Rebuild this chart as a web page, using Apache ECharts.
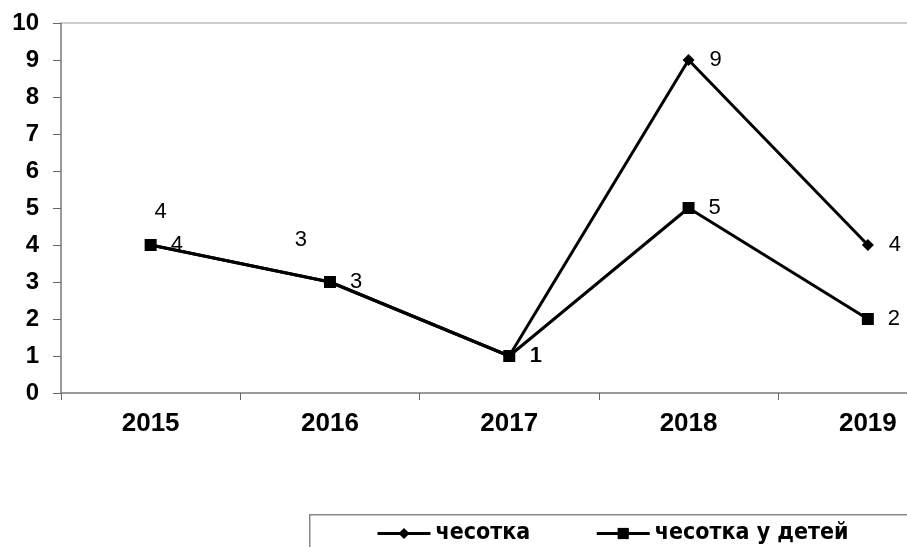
<!DOCTYPE html>
<html>
<head>
<meta charset="utf-8">
<script src="https://cdn.jsdelivr.net/npm/echarts@6/dist/echarts.min.js"></script>
<style>html,body{margin:0;padding:0;background:#fff;}#c{width:907px;height:547px;}</style>
</head>
<body>
<div id="c"></div>
<script>
const categories = ['2015', '2016', '2017', '2018', '2019'];
const seriesNames = ['чесотка', 'чесотка у детей'];
const scabies = [4, 3, 1, 9, 4];
const scabiesChildren = [4, 3, 1, 5, 2];
const yTicks = [0, 1, 2, 3, 4, 5, 6, 7, 8, 9, 10];

// label offsets for the first series (as placed in the original)
const s1LabelOffsets = [[10, -33], [-29, -42], null, null, null];

const chart = echarts.init(document.getElementById('c'), null, {renderer: 'canvas'});
const labelFont = {fontFamily: 'Arial, "Liberation Sans", sans-serif', fontSize: 22, color: '#000', fontWeight: 'normal'};

const s1Data = scabies.map((v, i) => {
  const o = s1LabelOffsets[i];
  if (o) return {value: v, label: {position: 'inside', offset: o}};
  return v;
});

chart.setOption({
  animation: false,
  backgroundColor: '#fff',
  grid: {left: 61, top: 23, height: 370, width: 896.5, outerBoundsMode: 'none', containLabel: false, show: true, borderColor: '#999', borderWidth: 1, backgroundColor: 'transparent'},
  graphic: [{
    type: 'rect', left: 309, top: 514, silent: true, z: -1,
    shape: {width: 700, height: 60},
    style: {fill: '#fff', stroke: '#888', lineWidth: 1.5}
  }],
  xAxis: {
    type: 'category',
    data: categories,
    boundaryGap: true,
    axisLine: {lineStyle: {color: '#888', width: 1.5}},
    axisTick: {show: true, length: 7, lineStyle: {color: '#666', width: 1}},
    axisLabel: {fontFamily: 'Arial, "Liberation Sans", sans-serif', fontSize: 26, fontWeight: 'bold', color: '#000', margin: 18}
  },
  yAxis: {
    type: 'value',
    min: yTicks[0],
    max: yTicks[yTicks.length - 1],
    interval: 1,
    splitLine: {show: false},
    axisLine: {show: true, lineStyle: {color: '#888', width: 1.5}},
    axisTick: {show: true, length: 8, lineStyle: {color: '#666', width: 1}},
    axisLabel: {fontFamily: 'Arial, "Liberation Sans", sans-serif', fontSize: 24, fontWeight: 'bold', color: '#000', margin: 22}
  },
  legend: {
    left: 309,
    top: 522,
    padding: [0, 0, 0, 67],
    itemGap: 65,
    itemWidth: 53,
    itemHeight: 14,
    lineStyle: {width: 3, color: '#000'},
    textStyle: {fontFamily: '"Liberation Sans Narrow", "DejaVu Sans Condensed", sans-serif', fontWeight: 'bold', fontSize: 23, color: '#000', padding: [4, 0, 0, 0]},
    data: seriesNames
  },
  series: [
    {
      name: seriesNames[0],
      type: 'line',
      data: s1Data,
      symbol: 'diamond',
      symbolSize: 12,
      itemStyle: {color: '#000'},
      lineStyle: {color: '#000', width: 3},
      label: Object.assign({show: true, position: 'right', distance: 15}, labelFont),
      z: 2
    },
    {
      name: seriesNames[1],
      type: 'line',
      data: scabiesChildren,
      symbol: 'rect',
      symbolSize: 12,
      itemStyle: {color: '#000'},
      lineStyle: {color: '#000', width: 3},
      label: Object.assign({show: true, position: 'right', distance: 14}, labelFont),
      z: 3
    }
  ]
});
</script>
</body>
</html>
